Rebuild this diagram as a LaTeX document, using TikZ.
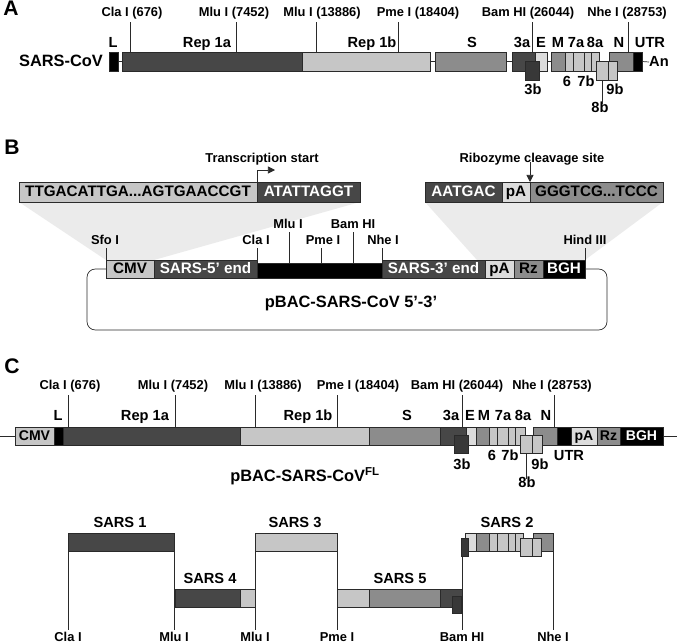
\documentclass[tikz,border=0pt]{standalone}
\usepackage{fontspec}
\setmainfont{Liberation Sans}
\usetikzlibrary{calc, arrows.meta, backgrounds}

\newlength{\px}
\setlength{\px}{0.03cm}

\definecolor{gdark}{HTML}{474747}
\definecolor{gdarker}{HTML}{383838}
\definecolor{gmid}{HTML}{8C8C8C}
\definecolor{glight}{HTML}{C6C6C6}
\definecolor{gpale}{HTML}{DCDCDC}
\definecolor{gshade}{HTML}{EBEBEB}
\definecolor{edge}{HTML}{2A2A2A}

\tikzset{
  seg/.style={draw=edge, line width=0.6pt, inner sep=0pt, outer sep=0pt,
    text height=0.72em, text depth=0pt, font=\bfseries\fontsize{13}{15}\selectfont},
  site/.style={inner sep=0pt, text height=0.72em, text depth=0pt,
    font=\bfseries\fontsize{11}{13}\selectfont},
  gene/.style={site, font=\bfseries\fontsize{12.5}{14}\selectfont},
  big/.style={site, font=\bfseries\fontsize{14}{16}\selectfont},
  panel/.style={site, font=\bfseries\fontsize{18}{20}\selectfont},
  tick/.style={draw=edge, line width=0.6pt},
  link/.style={draw=edge, line width=0.6pt},
}

% gene block: [style]{name}{x left}{x right}{y top}{y bottom}{text}
\newcommand{\Seg}[7][]{%
  \pgfmathsetlengthmacro{\segw}{(#4-#3)*\px}%
  \pgfmathsetlengthmacro{\segh}{(#6-#5)*\px}%
  \node[seg, #1, minimum width=\segw, minimum height=\segh, anchor=north west] (#2) at (#3,#5) {#7};%
}
% restriction site: {name}{x text}{y text}{x line}{y from}{y to}{text}
\newcommand{\Site}[7]{%
  \node[site] (#1) at (#2,#3) {#7};%
  \coordinate (#1/a) at (#4,#5);%
  \coordinate (#1/b) at (#4,#6);%
  \draw[tick] (#1/a) -- (#1/b);%
}

\begin{document}
\begin{tikzpicture}[x=\px, y=-\px]
    \useasboundingbox (0,0) rectangle (677,643);

    % ---------- A: genome ----------
    \node[panel] (A) at (11,11) {A};
    \node[big] (A/virus) at (61,62) {SARS-CoV};
    \foreach \t/\xt/\xl [count=\i] in {Cla I (676)/132/130, Mlu I (7452)/234/236,
        Mlu I (13886)/322/316, Pme I (18404)/418/398, Bam HI (26044)/528/532,
        Nhe I (28753)/627/628}
      {\Site{A/s\i}{\xt}{12}{\xl}{22}{52}{\t}}

    \Seg[fill=black]{A/L}{109}{118}{52}{71}{}
    \Seg[fill=gdark]{A/rep1a}{122}{302}{52}{71}{}
    \Seg[fill=glight]{A/rep1b}{302}{430}{52}{71}{}
    \Seg[fill=gmid]{A/S}{435}{506}{52}{71}{}
    \Seg[fill=gdark]{A/3a}{512}{535}{52}{71}{}
    \Seg[fill=gpale]{A/E}{535}{547}{52}{71}{}
    \Seg[fill=gdarker]{A/3b}{525}{539}{61}{80}{}
    \foreach \n/\c/\a/\b in {M/gmid/551/565, 6/glight/565/573, 7a/glight/573/584,
        7b/glight/584/591, 8a/glight/591/599, N/gmid/609/633}
      {\Seg[fill=\c]{A/\n}{\a}{\b}{52}{71}{}}
    \Seg[fill=black]{A/UTR}{633}{642}{52}{71}{}
    \draw[link] (A/8a.east) -- (A/N.west);
    \Seg[fill=glight]{A/8b}{596}{608}{61}{80}{}
    \Seg[fill=glight]{A/9b}{608}{617}{61}{80}{}
    \node[gene] (A/An) at (659,62) {An};

    \draw[link] (A/L.east) -- (A/rep1a.west);
    \draw[link] (A/rep1b.east) -- (A/S.west);
    \draw[link] (A/S.east) -- (A/3a.west);
    \draw[link] (A/E.east) -- (A/M.west);
    \draw[link] (A/UTR.east) -- (A/An.west);

    \foreach \t/\x [count=\i] in {L/113, Rep 1a/207, Rep 1b/372, S/472, 3a/522,
        E/541, M/558, 7a/576, 8a/595, N/619, UTR/650}
      \node[gene] (A/g\i) at (\x,43) {\t};
    \foreach \t/\x/\y [count=\i] in {6/567/82, 7b/586/82, 3b/533/90, 9b/615/90, 8b/600/108}
      \node[gene] (A/h\i) at (\x,\y) {\t};
    \draw[link] (A/8b.south) -- (A/8b.south |- A/h5.north);

    % ---------- B: pBAC construct ----------
    \node[panel] (B) at (12,150) {B};
    \Seg[fill=glight]{B/p1}{19}{257}{182}{202}{TTGACATTGA...AGTGAACCGT}
    \Seg[fill=gdark, text=white]{B/p2}{257}{360}{182}{202}{ATATTAGGT}
    \Seg[fill=gdark, text=white]{B/r1}{425}{502}{182}{202}{AATGAC}
    \Seg[fill=gpale]{B/r2}{502}{530}{182}{202}{pA}
    \Seg[fill=gmid]{B/r3}{530}{663}{182}{202}{GGGTCG...TCCC}

    \node[site] (B/ts) at (262,158) {Transcription start};
    \coordinate (B/tsend) at (275,170);
    \draw[link, -{Triangle[length=6pt, width=6pt]}] (B/p1.north east) |- (B/tsend);
    \node[site] (B/rzlab) at (532,158) {Ribozyme cleavage site};
    \draw[link, -{Triangle[length=6pt, width=6pt]}] (B/rzlab.south -| B/r3.north west)
      -- (B/r3.north west);

    \Seg[fill=glight]{B/cmv}{106}{154}{260}{278}{CMV}
    \Seg[fill=gdark, text=white]{B/sars5}{154}{257}{260}{278}{SARS-5’ end}
    \Seg[fill=black]{B/mid}{257}{382}{263}{278}{}
    \Seg[fill=gdark, text=white]{B/sars3}{382}{485}{260}{278}{SARS-3’ end}
    \Seg[fill=gpale]{B/pa}{485}{514}{260}{278}{pA}
    \Seg[fill=gmid]{B/rz}{514}{543}{260}{278}{Rz}
    \Seg[fill=black, text=white]{B/bgh}{543}{585}{260}{278}{BGH}

    \foreach \t/\xt/\yt/\xl/\ya/\yb [count=\i] in {Sfo I/105/240/106/248/260,
        Cla I/256/240/257/248/260, Mlu I/288/224/289/232/263, Pme I/323/240/321/248/263,
        Bam HI/353/224/353/232/263, Nhe I/383/240/382/248/260, Hind III/585/240/585/248/260}
      {\Site{B/s\i}{\xt}{\yt}{\xl}{\ya}{\yb}{\t}}

    \begin{scope}[on background layer]
      \fill[gshade] (B/p1.south west) -- (B/p2.south east) -- (B/cmv.north east)
        -- (B/cmv.north west) -- cycle;
      \fill[gshade] (B/r1.south west) -- (B/r3.south east) -- (B/bgh.north east)
        -- ($(B/sars3.north east)+(-8,0)$) -- cycle;
    \end{scope}

    \coordinate (B/lb) at (87,330);
    \coordinate (B/rt) at (607,269);
    \draw[link, rounded corners=0.25cm] (B/cmv.west) -| (B/lb) -| (B/rt) -- (B/bgh.east);
    \node[big] (B/name) at (351,303) {pBAC-SARS-CoV 5’-3’};

    % ---------- C: full-length clone ----------
    \node[panel] (C) at (12,369) {C};
    \foreach \t/\xt/\xl [count=\i] in {Cla I (676)/70/68, Mlu I (7452)/173/175,
        Mlu I (13886)/263/255, Pme I (18404)/358/337, Bam HI (26044)/457/462,
        Nhe I (28753)/552/554}
      {\Site{C/s\i}{\xt}{385}{\xl}{395}{427}{\t}}

    \begin{scope}[seg/.append style={font=\bfseries\fontsize{12}{14}\selectfont}]
    \Seg[fill=glight]{C/cmv}{15}{54}{427}{445}{CMV}
    \foreach \n/\c/\a/\b in {L/black/54/63, rep1a/gdark/63/240, rep1b/glight/240/369,
        S/gmid/369/440, 3a/gdark/440/466, E/gpale/466/476, M/gmid/476/489,
        6/glight/489/497, 7a/glight/497/508, 7b/glight/508/515, 8a/glight/515/525,
        N/gmid/533/557, UTR/black/557/571}
      {\Seg[fill=\c]{C/\n}{\a}{\b}{427}{445}{}}
    \Seg[fill=gpale]{C/pa}{571}{597}{427}{445}{pA}
    \Seg[fill=gmid]{C/rz}{597}{620}{427}{445}{Rz}
    \Seg[fill=black, text=white]{C/bgh}{620}{663}{427}{445}{BGH}
    \Seg[fill=gdarker]{C/3b}{454}{468}{435}{453}{}
    \Seg[fill=glight]{C/8b}{520}{532}{435}{453}{}
    \Seg[fill=glight]{C/9b}{532}{542}{435}{453}{}
    \end{scope}
    \coordinate (C/left) at (0,436);
    \coordinate (C/right) at (677,436);
    \draw[link] (C/left) -- (C/cmv.west);
    \draw[link] (C/bgh.east) -- (C/right);

    \foreach \t/\x [count=\i] in {L/58, Rep 1a/145, Rep 1b/308, S/407, 3a/451,
        E/470, M/484, 7a/503, 8a/523, N/546}
      \node[gene] (C/g\i) at (\x,416) {\t};
    \foreach \t/\x/\y [count=\i] in {6/492/456, 7b/510/456, UTR/569/456, 3b/462/465,
        9b/540/465, 8b/527/483}
      \node[gene] (C/h\i) at (\x,\y) {\t};
    \draw[link] (C/8b.south) -- (C/8b.south |- C/h6.north);
    \node[big] (C/name) at (305,477) {pBAC-SARS-CoV\textsuperscript{FL}};

    % fragments
    \Seg[fill=gdark]{F/s1}{68}{174}{533}{551}{}
    \Seg[fill=glight]{F/s3}{255}{337}{533}{551}{}
    \Seg[fill=gdark]{F/s4a}{175}{240}{589}{607}{}
    \Seg[fill=glight]{F/s4b}{240}{255}{589}{607}{}
    \Seg[fill=glight]{F/s5a}{337}{369}{589}{607}{}
    \Seg[fill=gmid]{F/s5b}{369}{440}{589}{607}{}
    \Seg[fill=gdark]{F/s5c}{440}{462}{589}{607}{}
    \Seg[fill=gdarker]{F/s5d}{452}{461}{596}{613}{}
    \foreach \n/\c/\a/\b in {E/gpale/465/476, M/gmid/476/489, 6/glight/489/497,
        7a/glight/497/508, 7b/glight/508/515, 8a/glight/515/523, N/gmid/533/553}
      {\Seg[fill=\c]{F/s2\n}{\a}{\b}{533}{551}{}}
    \Seg[fill=gdarker]{F/s2x}{461}{468}{538}{556}{}
    \Seg[fill=glight]{F/s28b}{520}{532}{538}{556}{}
    \Seg[fill=glight]{F/s29b}{532}{541}{538}{556}{}

    \foreach \t/\x/\y [count=\i] in {SARS 1/120/523, SARS 3/295/523, SARS 4/210/579,
        SARS 5/400/579, SARS 2/507/523}
      \node[gene] (F/n\i) at (\x,\y) {\t};
    \foreach \t/\x/\y [count=\i] in {Cla I/68/551, Mlu I/174/551, Mlu I/255/551,
        Pme I/337/551, Bam HI/462/556, Nhe I/553/551}
      {\node[site] (F/b\i) at (\x,637) {\t};
       \coordinate (F/t\i) at (\x,\y);
       \draw[tick, shorten >=2pt] (F/t\i) -- (F/b\i.north);}

\end{tikzpicture}
\end{document}
